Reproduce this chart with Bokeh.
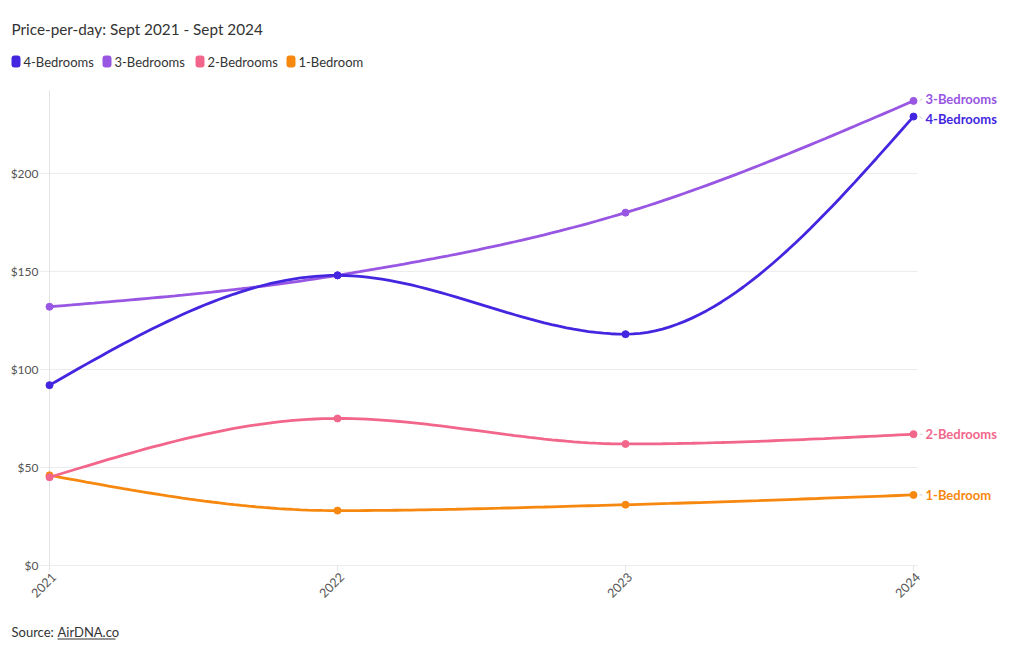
import numpy as np
from bokeh.plotting import figure
from bokeh.models import Label, BoxAnnotation, Range1d
from bokeh.embed import file_html
from bokeh.resources import INLINE

# ---------------- data ----------------
years = [2021, 2022, 2023, 2024]
year_labels = ["2021", "2022", "2023", "2024"]
series_names = ["4-Bedrooms", "3-Bedrooms", "2-Bedrooms", "1-Bedroom"]
bed4 = [92, 148, 118, 229]
bed3 = [132, 148, 180, 237]
bed2 = [45, 75, 62, 67]
bed1 = [46, 28, 31, 36]
colors = ["#4326e0", "#9856e3", "#f2668b", "#f7880f"]
y_ticks = [0, 50, 100, 150, 200]
y_tick_labels = ["$0", "$50", "$100", "$150", "$200"]
title_text = "Price-per-day: Sept 2021 - Sept 2024"
source_prefix = "Source: "
source_link = "AirDNA.co"

FONT = "Lato"
W, H = 1004, 642

# plot-area geometry (pixels on the canvas)
PLOT_L, PLOT_R, PLOT_T, PLOT_B = 49, 913, 90, 565
Y_TOP = 242.3
px_x = (years[-1] - years[0]) / (PLOT_R - PLOT_L)   # years per pixel
px_y = Y_TOP / (PLOT_B - PLOT_T)                      # dollars per pixel


def monotone_x(xs, ys, n=40):
    """d3 curveMonotoneX rendering of the given points."""
    xs = np.asarray(xs, float)
    ys = np.asarray(ys, float)
    m = len(xs)
    h = np.diff(xs)
    s = np.diff(ys) / h
    t = np.zeros(m)
    for i in range(1, m - 1):
        h0, h1 = h[i - 1], h[i]
        s0, s1 = s[i - 1], s[i]
        p_ = (s0 * h1 + s1 * h0) / (h0 + h1)
        t[i] = (np.sign(s0) + np.sign(s1)) * min(abs(s0), abs(s1), 0.5 * abs(p_))
    t[0] = (3 * s[0] - t[1]) / 2
    t[-1] = (3 * s[-1] - t[-2]) / 2
    ox, oy = [], []
    for i in range(m - 1):
        u = np.linspace(0, 1, n)
        dx = h[i]
        h00 = 2 * u**3 - 3 * u**2 + 1
        h10 = u**3 - 2 * u**2 + u
        h01 = -2 * u**3 + 3 * u**2
        h11 = u**3 - u**2
        ox.extend(list(xs[i] + u * dx))
        oy.extend(list(h00 * ys[i] + h10 * dx * t[i] + h01 * ys[i + 1] + h11 * dx * t[i + 1]))
    return ox, oy


# whole canvas is the frame; scales chosen so the data area sits where it should
x0 = years[0] - PLOT_L * px_x
x1 = years[0] + (W - PLOT_L) * px_x
y1 = (PLOT_B - 0) * px_y
y0 = -(H - PLOT_B) * px_y
p = figure(width=W, height=H, output_backend="svg", toolbar_location=None,
           x_range=Range1d(x0, x1), y_range=Range1d(y0, y1),
           min_border=0)
p.axis.visible = False
p.grid.visible = False
p.outline_line_color = None
p.background_fill_color = "white"
p.border_fill_color = "white"

# horizontal gridlines
g_left = years[0] - 10 * px_x
g_right = years[-1] + 4 * px_x
p.segment(x0=[g_left] * len(y_ticks), y0=y_ticks, x1=[g_right] * len(y_ticks), y1=y_ticks,
          line_color="#ececec", line_width=1)
# left axis line
p.segment(x0=[years[0]], y0=[0], x1=[years[0]], y1=[Y_TOP], line_color="#e3e3e3", line_width=1)
# x ticks
p.segment(x0=years, y0=[0] * 4, x1=years, y1=[-6 * px_y] * 4, line_color="#e6e6e6", line_width=1)

# y tick labels
p.text(x=[years[0]] * len(y_ticks), y=y_ticks, text=y_tick_labels, x_offset=-11,
       text_font={"value": FONT}, text_font_size="12px", text_color="#555555",
       text_align="right", text_baseline="middle")
# x tick labels (rotated)
p.text(x=years, y=[0] * 4, text=year_labels, x_offset=4, y_offset=9, angle=np.pi / 4,
       text_font={"value": FONT}, text_font_size="12.5px", text_color="#555555",
       text_align="right", text_baseline="middle")

all_series = [bed4, bed3, bed2, bed1]
for vals, col in reversed(list(zip(all_series, colors))):
    cx, cy = monotone_x(years, vals)
    p.line(cx, cy, line_color=col, line_width=2.8)
    p.scatter(years, vals, size=7, fill_color=col, line_color=col)

# end labels
end_shift_px = [-2, 2, 0, 0]
last_vals = [s[-1] for s in all_series]
lab_y = [v + d * px_y for v, d in zip(last_vals, end_shift_px)]
p.segment(x0=[years[-1] + 6 * px_x] * 4, y0=last_vals,
          x1=[years[-1] + 9 * px_x] * 4, y1=lab_y, line_color="#cfcfcf", line_width=1)
p.text(x=[years[-1]] * 4, y=lab_y, text=series_names, x_offset=12,
       text_color=colors, text_font={"value": FONT}, text_font_size="13px",
       text_font_style="bold", text_baseline="middle", text_align="left")

# title
p.add_layout(Label(x=11, y=28, x_units="canvas", y_units="canvas", text=title_text,
                   text_font=FONT, text_font_size="15.3px", text_color="#333333",
                   text_baseline="middle", text_align="left"))

# legend
leg_x = [11, 102, 195, 286]
for name, col, lx in zip(series_names, colors, leg_x):
    p.add_layout(BoxAnnotation(left=lx, right=lx + 9, top=55, bottom=67,
                               left_units="canvas", right_units="canvas",
                               top_units="canvas", bottom_units="canvas",
                               fill_color=col, fill_alpha=1, line_color=None,
                               border_radius=3))
    p.add_layout(Label(x=lx + 12, y=61, x_units="canvas", y_units="canvas", text=name,
                       text_font=FONT, text_font_size="13px", text_color="#333333",
                       text_baseline="middle", text_align="left"))

# source
p.add_layout(Label(x=11, y=631, x_units="canvas", y_units="canvas", text=source_prefix,
                   text_font=FONT, text_font_size="13px", text_color="#333333",
                   text_baseline="middle", text_align="left"))
p.add_layout(Label(x=57, y=631, x_units="canvas", y_units="canvas", text=source_link,
                   text_font=FONT, text_font_size="13px", text_color="#333333",
                   text_baseline="middle", text_align="left"))
p.add_layout(BoxAnnotation(left=57, right=115, top=638, bottom=639,
                           left_units="canvas", right_units="canvas",
                           top_units="canvas", bottom_units="canvas",
                           fill_color="#333333", fill_alpha=1, line_color=None))

open("out.html", "w").write(file_html(p, INLINE))
